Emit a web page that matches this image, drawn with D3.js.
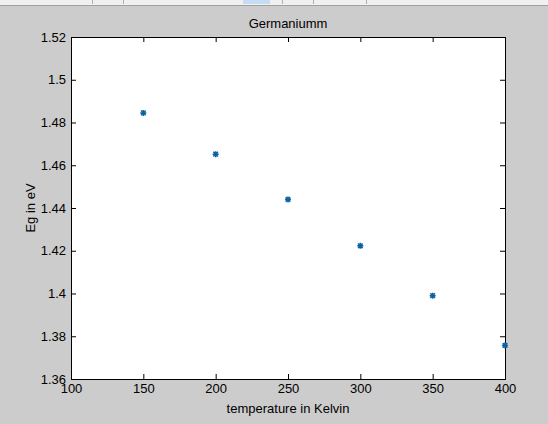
<!DOCTYPE html>
<html>
<head>
<meta charset="utf-8">
<script src="https://cdn.jsdelivr.net/npm/d3@7"></script>
<style>
  body { margin: 0; background: #cccccc; }
  svg { display: block; }
  text { font-family: "Liberation Sans", Arial, sans-serif; font-size: 13px; fill: #000; }
</style>
</head>
<body>
<script>
// data
const temps = [150, 200, 250, 300, 350, 400];
const energies = [1.4845, 1.4652, 1.4440, 1.4223, 1.3990, 1.3757];
const xTicks = [100, 150, 200, 250, 300, 350, 400];
const yTicks = [1.36, 1.38, 1.4, 1.42, 1.44, 1.46, 1.48, 1.5, 1.52];

const width = 548, height = 424;
const margin = {left: 71, right: 43, top: 37, bottom: 45};

let svg = d3.select("body").append("svg")
    .attr("width", width)
    .attr("height", height);

// figure background
svg.append("rect").attr("width", width).attr("height", height).attr("fill", "#cccccc");

// toolbar remnant on top
svg.append("rect").attr("width", width).attr("height", 5).attr("fill", "#f0f0f0");
svg.append("line").attr("x1", 0).attr("x2", width).attr("y1", 5.5).attr("y2", 5.5)
    .attr("stroke", "#a0a0a0");
[92, 123, 282, 313, 366].forEach(function(x) {
    svg.append("line").attr("x1", x + 0.5).attr("x2", x + 0.5).attr("y1", 0).attr("y2", 4)
        .attr("stroke", "#b0b0b0");
});
svg.append("rect").attr("x", 243).attr("y", 0).attr("width", 27).attr("height", 4)
    .attr("fill", "#c5dcf2");

let x = d3.scaleLinear().domain([100, 400]).range([margin.left, width - margin.right]);
let y = d3.scaleLinear().domain([1.36, 1.52]).range([height - margin.bottom, margin.top]);

// plot area
svg.append("rect")
    .attr("x", x(100)).attr("y", y(1.52))
    .attr("width", x(400) - x(100)).attr("height", y(1.36) - y(1.52))
    .attr("fill", "#ffffff");

let fmt = d => d3.format("")(+d.toFixed(2));

// axes with inward ticks, mirrored on top and right
svg.append("g").attr("transform", "translate(0," + y(1.36) + ")")
    .call(d3.axisBottom(x).tickValues(xTicks).tickSize(-5).tickPadding(5).tickFormat(d3.format("d")))
    .call(g => g.select(".domain").attr("stroke", "#000"))
    .call(g => g.selectAll("text").attr("font-size", 12).attr("font-family", null));
svg.append("g").attr("transform", "translate(0," + y(1.52) + ")")
    .call(d3.axisTop(x).tickValues(xTicks).tickSize(-5).tickFormat(""))
    .call(g => g.select(".domain").attr("stroke", "#000"));
svg.append("g").attr("transform", "translate(" + x(100) + ",0)")
    .call(d3.axisLeft(y).tickValues(yTicks).tickSize(-5).tickPadding(5).tickFormat(fmt))
    .call(g => g.select(".domain").attr("stroke", "#000"))
    .call(g => g.selectAll("text").attr("font-size", 12).attr("font-family", null));
svg.append("g").attr("transform", "translate(" + x(400) + ",0)")
    .call(d3.axisRight(y).tickValues(yTicks).tickSize(-5).tickFormat(""))
    .call(g => g.select(".domain").attr("stroke", "#000"));

// asterisk markers
let pts = svg.selectAll("g.pt").data(temps.map((t, i) => ({t: t, e: energies[i]})))
    .enter().append("g").attr("class", "pt")
    .attr("transform", d => "translate(" + x(d.t) + "," + y(d.e) + ")");
pts.append("path")
    .attr("d", "M-3,0H3M0,-3V3M-2.3,-2.3L2.3,2.3M-2.3,2.3L2.3,-2.3")
    .attr("stroke", "#0a62a3")
    .attr("stroke-width", 1.5);

// labels
svg.append("text").attr("x", (x(100) + x(400)) / 2).attr("y", 28)
    .attr("text-anchor", "middle").text("Germaniumm");
svg.append("text").attr("x", (x(100) + x(400)) / 2).attr("y", 413)
    .attr("text-anchor", "middle").text("temperature in Kelvin");
svg.append("text")
    .attr("transform", "translate(35," + (y(1.36) + y(1.52)) / 2 + ") rotate(-90)")
    .attr("text-anchor", "middle").text("Eg in eV");
</script>
</body>
</html>
